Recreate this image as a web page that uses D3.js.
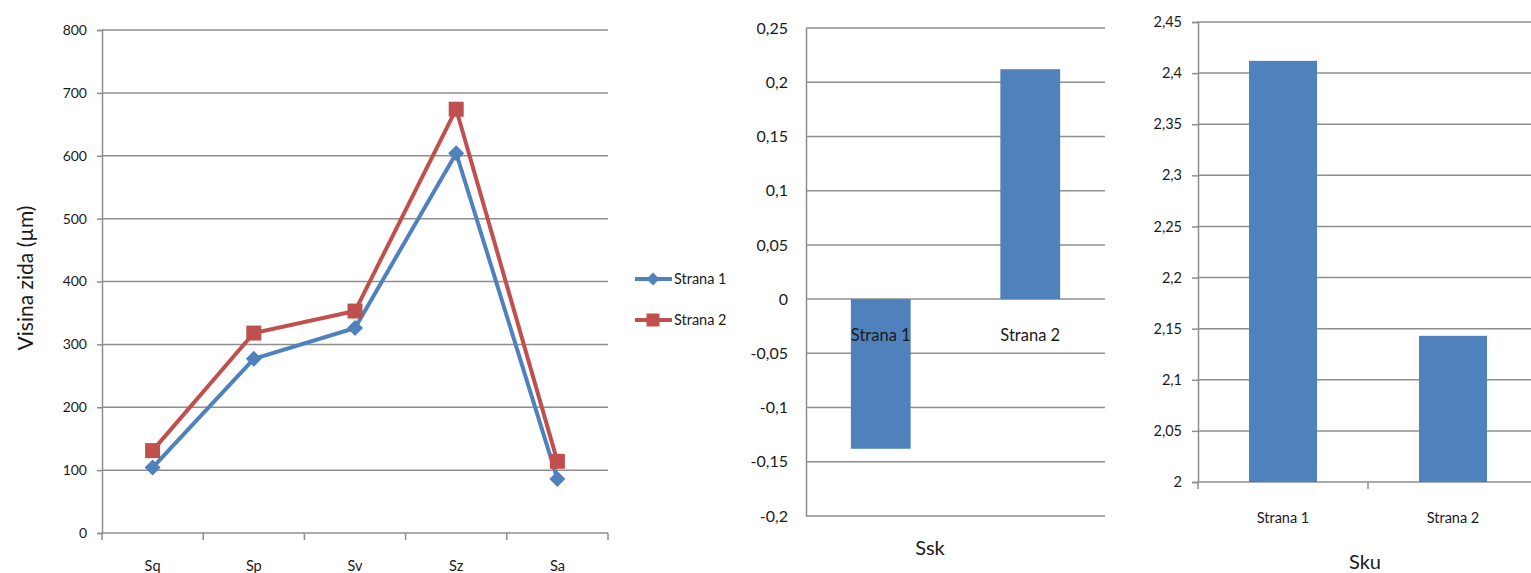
<!DOCTYPE html>
<html>
<head>
<meta charset="utf-8">
<script src="https://cdn.jsdelivr.net/npm/d3@7"></script>
<style>
  html, body { margin: 0; padding: 0; background: #fff; }
  svg { display: block; font-family: Lato, "Open Sans", sans-serif; }
</style>
</head>
<body>
<svg id="chart" width="1531" height="573"></svg>
<script>
// ---- data ----
const categories = ["Sq", "Sp", "Sv", "Sz", "Sa"];
const strana1 = [104, 277, 326, 604, 86];
const strana2 = [131, 318, 353, 674, 114];
const seriesNames = ["Strana 1", "Strana 2"];
const leftTicks = [0, 100, 200, 300, 400, 500, 600, 700, 800];

const barCats = ["Strana 1", "Strana 2"];
const sskValues = [-0.138, 0.212];
const sskTicks = [-0.2, -0.15, -0.1, -0.05, 0, 0.05, 0.1, 0.15, 0.2, 0.25];
const skuValues = [2.412, 2.143];
const skuTicks = [2, 2.05, 2.1, 2.15, 2.2, 2.25, 2.3, 2.35, 2.4, 2.45];

// ---- styles ----
const BLUE = "#4F81BD", RED = "#C0504D", GRID = "#8e8e8e", TXT = "#1a1a1a";
const loc = d3.formatLocale({decimal: ",", thousands: ".", grouping: [3], currency: ["", ""], minus: "-"});
const fmt = loc.format(".2~f");

const svg = d3.select("#chart");

// ================= LEFT: line chart =================
{
  const x = d3.scaleBand().domain(categories).range([102, 608]).padding(0);
  const y = d3.scaleLinear().domain([0, 800]).range([533, 30]);
  const g = svg.append("g");

  g.selectAll("line.grid").data(leftTicks).join("line")
    .attr("x1", 102).attr("x2", 608)
    .attr("y1", d => y(d)).attr("y2", d => y(d))
    .attr("stroke", GRID).attr("stroke-width", 1.5);

  const ya = g.append("g").attr("transform", "translate(102,0)")
    .call(d3.axisLeft(y).tickValues(leftTicks).tickSize(5).tickPadding(10).tickFormat(fmt));
  ya.select(".domain").attr("stroke", GRID).attr("stroke-width", 1.5);
  ya.selectAll(".tick line").attr("stroke", GRID).attr("stroke-width", 1.5);
  ya.selectAll(".tick text").attr("fill", TXT).style("font-size", "14px").style("font-family", "Lato");

  const bounds = categories.map(c => x(c)).concat([x(categories[categories.length - 1]) + x.bandwidth()]);
  g.selectAll("line.xt").data(bounds).join("line")
    .attr("x1", d => d).attr("x2", d => d).attr("y1", 533).attr("y2", 540)
    .attr("stroke", GRID).attr("stroke-width", 1.5);
  g.selectAll("text.xl").data(categories).join("text")
    .attr("x", d => x(d) + x.bandwidth() / 2).attr("y", 571)
    .attr("text-anchor", "middle").attr("fill", TXT).style("font-size", "14.5px")
    .text(d => d);

  g.append("text").attr("transform", "translate(33,278) rotate(-90)")
    .attr("text-anchor", "middle").attr("fill", TXT).style("font-size", "21px")
    .text("Visina zida (µm)");

  const line = d3.line().x((d, i) => x(categories[i]) + x.bandwidth() / 2).y(d => y(d));
  const diamond = r => `M0,${-r}L${r},0L0,${r}L${-r},0Z`;

  g.append("path").datum(strana1).attr("d", line).attr("fill", "none")
    .attr("stroke", BLUE).attr("stroke-width", 4).attr("stroke-linejoin", "round");
  g.append("path").datum(strana2).attr("d", line).attr("fill", "none")
    .attr("stroke", RED).attr("stroke-width", 4).attr("stroke-linejoin", "round");

  g.selectAll("path.m1").data(strana1).join("path")
    .attr("transform", (d, i) => `translate(${x(categories[i]) + x.bandwidth() / 2},${y(d)})`)
    .attr("d", diamond(8)).attr("fill", BLUE);
  g.selectAll("rect.m2").data(strana2).join("rect")
    .attr("x", (d, i) => x(categories[i]) + x.bandwidth() / 2 - 7.5)
    .attr("y", d => y(d) - 7.5).attr("width", 15).attr("height", 15).attr("fill", RED);

  const leg = svg.append("g");
  const ly = [279, 320];
  seriesNames.forEach((name, i) => {
    leg.append("line").attr("x1", 635).attr("x2", 672).attr("y1", ly[i]).attr("y2", ly[i])
      .attr("stroke", i === 0 ? BLUE : RED).attr("stroke-width", 4);
    if (i === 0) {
      leg.append("path").attr("transform", `translate(653,${ly[i]})`).attr("d", diamond(6.5)).attr("fill", BLUE);
    } else {
      leg.append("rect").attr("x", 653 - 6.5).attr("y", ly[i] - 6.5).attr("width", 13).attr("height", 13).attr("fill", RED);
    }
    leg.append("text").attr("x", 674).attr("y", ly[i] + 5).attr("fill", TXT)
      .style("font-size", "14.5px").text(name);
  });
}

// ================= MIDDLE: Ssk bars =================
{
  const x = d3.scaleBand().domain(barCats).range([806, 1105]).padding(0);
  const y = d3.scaleLinear().domain([-0.2, 0.25]).range([516, 28]);
  const g = svg.append("g");

  g.selectAll("line.grid").data(sskTicks).join("line")
    .attr("x1", 806).attr("x2", 1105)
    .attr("y1", d => y(d)).attr("y2", d => y(d))
    .attr("stroke", GRID).attr("stroke-width", 1.5);

  const ya = g.append("g").attr("transform", "translate(806,0)")
    .call(d3.axisLeft(y).tickValues(sskTicks).tickSize(0).tickPadding(18).tickFormat(fmt));
  ya.select(".domain").attr("stroke", GRID).attr("stroke-width", 1.5);
  ya.selectAll(".tick text").attr("fill", TXT).style("font-size", "16px").style("font-family", "Lato");

  const bw = x.bandwidth() * 0.4;
  g.selectAll("rect.bar").data(sskValues).join("rect")
    .attr("x", (d, i) => x(barCats[i]) + x.bandwidth() / 2 - bw / 2)
    .attr("width", bw)
    .attr("y", d => Math.min(y(d), y(0)))
    .attr("height", d => Math.abs(y(d) - y(0)))
    .attr("fill", BLUE);

  g.selectAll("text.xl").data(barCats).join("text")
    .attr("x", d => x(d) + x.bandwidth() / 2).attr("y", y(0) + 42)
    .attr("text-anchor", "middle").attr("fill", TXT).style("font-size", "16.5px")
    .text(d => d);

  g.append("text").attr("x", 930).attr("y", 555).attr("text-anchor", "middle")
    .attr("fill", TXT).style("font-size", "20px").text("Ssk");
}

// ================= RIGHT: Sku bars =================
{
  const x = d3.scaleBand().domain(barCats).range([1198, 1538]).padding(0);
  const y = d3.scaleLinear().domain([2, 2.45]).range([482, 22]);
  const g = svg.append("g");

  g.selectAll("line.grid").data(skuTicks).join("line")
    .attr("x1", 1198).attr("x2", 1538)
    .attr("y1", d => y(d)).attr("y2", d => y(d))
    .attr("stroke", GRID).attr("stroke-width", 1.5);

  const ya = g.append("g").attr("transform", "translate(1198,0)")
    .call(d3.axisLeft(y).tickValues(skuTicks).tickSize(6).tickPadding(10).tickFormat(fmt));
  ya.select(".domain").attr("stroke", GRID).attr("stroke-width", 1.5);
  ya.selectAll(".tick line").attr("stroke", GRID).attr("stroke-width", 1.5);
  ya.selectAll(".tick text").attr("fill", TXT).style("font-size", "14.5px").style("font-family", "Lato");

  const bounds = barCats.map(c => x(c));
  g.selectAll("line.xt").data(bounds).join("line")
    .attr("x1", d => d).attr("x2", d => d).attr("y1", y(2)).attr("y2", y(2) + 7)
    .attr("stroke", GRID).attr("stroke-width", 1.5);

  const bw = x.bandwidth() * 0.4;
  g.selectAll("rect.bar").data(skuValues).join("rect")
    .attr("x", (d, i) => x(barCats[i]) + x.bandwidth() / 2 - bw / 2)
    .attr("width", bw)
    .attr("y", d => y(d))
    .attr("height", d => y(2) - y(d))
    .attr("fill", BLUE);

  g.selectAll("text.xl").data(barCats).join("text")
    .attr("x", d => x(d) + x.bandwidth() / 2).attr("y", 523)
    .attr("text-anchor", "middle").attr("fill", TXT).style("font-size", "14.5px")
    .text(d => d);

  g.append("text").attr("x", 1365).attr("y", 569).attr("text-anchor", "middle")
    .attr("fill", TXT).style("font-size", "20px").text("Sku");
}
</script>
</body>
</html>
